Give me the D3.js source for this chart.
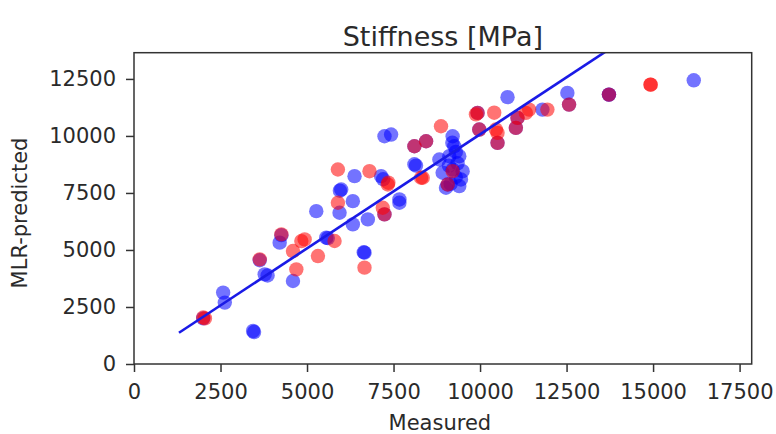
<!DOCTYPE html>
<html><head><meta charset="utf-8">
<script src="https://cdn.jsdelivr.net/npm/d3@7"></script>
<style>body{margin:0;background:#fff}svg{display:block}text{font-family:"DejaVu Sans",sans-serif;fill:#2a2a2a}</style>
</head><body><svg id="c" width="776" height="434"></svg>
<script>
const title = "Stiffness [MPa]";
const xLabel = "Measured";
const yLabel = "MLR-predicted";
const xTicks = [0, 2500, 5000, 7500, 10000, 12500, 15000, 17500];
const yTicks = [0, 2500, 5000, 7500, 10000, 12500];
const xDomain = [0, 17850];
const yDomain = [0, 13650];

const blueX = [2000,2576,2624,3441,3470,3633,3777,3860,4210,4259,4594,5267,5555,5600,5940,5988,5950,6373,6324,6324,6757,6661,6640,7141,7200,7238,7430,7670,7670,8103,8150,8919,8824,9112,9208,9256,9400,9208,9496,9448,9016,9300,9350,9150,9400,9928,10794,11802,12523,16176,13725,13725,12572,9977,11082,11035,10505,8103,8440,7238,9064,9200,9300,9100];
const blueY = [2000,3130,2693,1449,1400,4550,3932,3880,5320,5650,3638,6703,5538,5520,6633,7653,7600,8236,7141,6121,6340,4882,4900,8236,8100,9987,10061,7215,7071,8757,8700,8385,8967,9111,9987,9549,9111,8529,8454,8091,7728,9300,8800,7900,7800,11011,11700,11156,11887,12439,11813,11813,11375,10280,10792,10355,9698,9549,9768,6559,7872,9700,8200,8700];

const redX = [2000,2050,3633,4259,4835,4594,4691,5315,4931,5796,5892,5892,6805,6661,7333,7350,7189,7238,8103,8440,8343,8872,9208,9064,8296,9881,10409,9977,10505,11035,10505,11323,11419,11082,10459,11946,12572,13725,14928,14928,9928];
const redY = [2036,2000,4588,5683,5390,4952,4151,4733,5464,5392,8529,7071,8454,4225,7872,7950,6852,6559,9549,9768,8166,10425,8454,7872,8166,10946,11019,10280,10136,10355,9698,11011,11156,10792,10280,11156,11375,11813,12250,12250,11011];

const fitX = [1300, 16200];
const fitY = [1370, 16270];

const svg = d3.select("#c");
const L = 134, R = 751.7, T = 52.7, B = 364;
const x = d3.scaleLinear().domain(xDomain).range([L, R]);
const y = d3.scaleLinear().domain(yDomain).range([B, T]);

svg.append("defs").append("clipPath").attr("id","clip")
  .append("rect").attr("x",L).attr("y",T).attr("width",R-L).attr("height",B-T);

const gx = svg.append("g").attr("transform",`translate(0,${B})`)
  .call(d3.axisBottom(x).tickValues(xTicks).tickFormat(d3.format("d")).tickSize(8).tickPadding(12));
const gy = svg.append("g").attr("transform",`translate(${L},0)`)
  .call(d3.axisLeft(y).tickValues(yTicks).tickFormat(d3.format("d")).tickSize(8).tickPadding(10));
[gx,gy].forEach(g=>{
  g.select(".domain").remove();
  g.selectAll(".tick line").attr("stroke","#333").attr("stroke-width",1.5);
  g.selectAll(".tick text").attr("font-size",21).attr("font-family","DejaVu Sans").attr("fill","#2a2a2a");
});

const plot = svg.append("g").attr("clip-path","url(#clip)");
const blue = blueX.map((v,i)=>({x:v,y:blueY[i]}));
const red = redX.map((v,i)=>({x:v,y:redY[i]}));
plot.selectAll("circle.b").data(blue).join("circle").attr("class","b")
  .attr("cx",d=>x(d.x)).attr("cy",d=>y(d.y)).attr("r",7.2)
  .attr("fill","#0000ff").attr("fill-opacity",0.55);
plot.selectAll("circle.r").data(red).join("circle").attr("class","r")
  .attr("cx",d=>x(d.x)).attr("cy",d=>y(d.y)).attr("r",7.2)
  .attr("fill","#ff0000").attr("fill-opacity",0.55);

const fit = fitX.map((v,i)=>({x:v,y:fitY[i]}));
plot.append("path").datum(fit)
  .attr("d",d3.line().x(d=>x(d.x)).y(d=>y(d.y)))
  .attr("stroke","#1a1ae6").attr("stroke-width",2.6).attr("fill","none");

svg.append("rect").attr("x",L).attr("y",T).attr("width",R-L).attr("height",B-T)
  .attr("fill","none").attr("stroke","#333").attr("stroke-width",1.5);

svg.append("text").attr("x",(L+R)/2).attr("y",46).attr("text-anchor","middle")
  .attr("font-size",27).text(title);
svg.append("text").attr("x",(L+R)/2 - 3).attr("y",430).attr("text-anchor","middle")
  .attr("font-size",21).text(xLabel);
svg.append("text").attr("transform","translate(27,213) rotate(-90)").attr("text-anchor","middle")
  .attr("font-size",21).text(yLabel);
</script></body></html>
